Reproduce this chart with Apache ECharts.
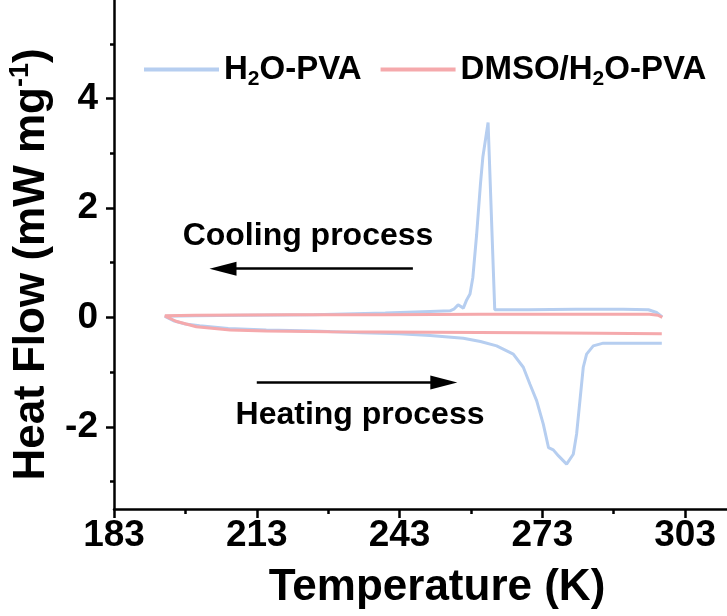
<!DOCTYPE html>
<html lang="en">
<head>
    <meta charset="UTF-8">
    <title>DSC</title>
    <script src="https://cdn.jsdelivr.net/npm/echarts@6/dist/echarts.min.js"></script>
    <style>
        body { padding: 0; margin: 0; border: none; }
        #ec { width: 727px; height: 616px; }
    </style>
</head>
<body>
<div id="ec"></div>
<script>
    // H2O-PVA: cooling run (298 K -> 194 K) then heating run (194 K -> 298 K)
    const h2oTemp = [298.2, 297.0, 295.3, 290, 280, 270, 263.0, 262.6, 261.6, 260.5, 260.0, 259.2, 258.4, 257.8, 257.1, 256.4, 255.3, 254.4, 253.6, 249.4, 240, 225, 210, 200, 193.7,
        195.5, 198, 201, 207, 215, 225, 235, 243, 249.4, 256.4, 260, 263.4, 266.9, 269.0, 270.4, 271.8, 273.2, 274.3, 275.3, 276.4, 278.1, 279.5, 280.2, 280.9, 281.6, 282.3, 283.7, 285.8, 298.1];
    const h2oFlow = [0.01, 0.09, 0.14, 0.15, 0.15, 0.14, 0.14, 0.15, 3.56, 2.93, 2.44, 1.52, 0.73, 0.43, 0.32, 0.17, 0.23, 0.15, 0.12, 0.11, 0.08, 0.05, 0.04, 0.03, 0.02,
        -0.06, -0.12, -0.15, -0.2, -0.23, -0.25, -0.28, -0.3, -0.33, -0.38, -0.44, -0.52, -0.67, -0.91, -1.22, -1.52, -1.95, -2.38, -2.42, -2.53, -2.68, -2.50, -2.13, -1.52, -0.91, -0.67, -0.52, -0.47, -0.47];

    // DMSO/H2O-PVA
    const dmsoTemp = [298.2, 297.3, 295.5, 280, 260, 240, 220, 200, 193.7,
        196, 200.3, 207.4, 215, 228.4, 249.4, 270, 285, 298.1];
    const dmsoFlow = [0.0, 0.04, 0.06, 0.06, 0.06, 0.05, 0.05, 0.04, 0.03,
        -0.07, -0.17, -0.23, -0.25, -0.26, -0.27, -0.28, -0.29, -0.30];

    const xMajor = [183, 213, 243, 273, 303];
    const xMinor = [198, 228, 258, 288];
    const yMajor = [-2, 0, 2, 4];
    const yMinor = [-3, -1, 1, 3, 5];

    // arrows: [startT, endT, heat flow]
    const coolArrow = [245.8, 205.9, 0.89];
    const heatArrow = [213.0, 252.3, -1.19];

    const FONT = '"Liberation Sans", Arial, sans-serif';
    const BLUE = '#b6cef0';
    const RED = '#f5a9ac';

    function zip(a, b) {
        return a.map((v, i) => [v, b[i]]);
    }

    let ec = echarts.init(document.getElementById('ec'));

    const xRange = {min: 183, max: 311.8};
    const yRange = {min: -3.5, max: 5.8};

    let option = {
        animation: false,
        grid: {left: 114, right: 0, top: 0, bottom: 107, containLabel: false, outerBoundsMode: 'none'},
        legend: {
            data: ['H2O-PVA', 'DMSO/H2O-PVA'],
            left: 139,
            top: 48,
            width: 600,
            itemWidth: 75,
            itemHeight: 4,
            itemGap: 19,
            icon: 'rect',
            formatter: function (name) {
                return name === 'H2O-PVA' ? '{a|H}{s|2}{a|O-PVA}' : '{a|DMSO/H}{s|2}{a|O-PVA}';
            },
            textStyle: {
                rich: {
                    a: {fontFamily: FONT, fontWeight: 'bold', fontSize: 33, color: '#000', lineHeight: 40},
                    s: {fontFamily: FONT, fontWeight: 'bold', fontSize: 21, color: '#000', lineHeight: 40, verticalAlign: 'bottom', padding: [12, 0, 0, 0]}
                }
            }
        },
        xAxis: [{
            type: 'value',
            min: xRange.min,
            max: xRange.max,
            name: 'Temperature (K)',
            nameLocation: 'middle',
            nameGap: 57,
            nameTextStyle: {fontFamily: FONT, fontWeight: 'bold', fontSize: 44, color: '#000', padding: [0, 0, 0, 33]},
            axisLine: {show: true, onZero: false, lineStyle: {color: '#000', width: 2.5}},
            axisTick: {show: true, length: 9, customValues: xMajor, lineStyle: {color: '#000', width: 2.5}},
            axisLabel: {customValues: xMajor, margin: 8, fontFamily: FONT, fontWeight: 'bold', fontSize: 37, color: '#000'},
            splitLine: {show: false}
        }, {
            type: 'value',
            min: xRange.min,
            max: xRange.max,
            position: 'bottom',
            axisLine: {show: false, onZero: false},
            axisTick: {show: true, length: 5, customValues: xMinor, lineStyle: {color: '#000', width: 2.5}},
            axisLabel: {show: false},
            splitLine: {show: false}
        }],
        yAxis: [{
            type: 'value',
            min: yRange.min,
            max: yRange.max,
            name: '{a|Heat Flow (mW mg}{s|-1}{a|)}',
            nameLocation: 'middle',
            nameRotate: 90,
            nameGap: 55,
            nameTextStyle: {
                padding: [0, 20, 0, 0],
                rich: {
                    a: {fontFamily: FONT, fontWeight: 'bold', fontSize: 44, color: '#000', lineHeight: 50},
                    s: {fontFamily: FONT, fontWeight: 'bold', fontSize: 27, color: '#000', lineHeight: 50, verticalAlign: 'top', padding: [0, 0, 8, 0]}
                }
            },
            axisLine: {show: true, onZero: false, lineStyle: {color: '#000', width: 2.5}},
            axisTick: {show: true, length: 8, customValues: yMajor, lineStyle: {color: '#000', width: 2.5}},
            axisLabel: {customValues: yMajor, margin: 16, fontFamily: FONT, fontWeight: 'bold', fontSize: 37, color: '#000'},
            splitLine: {show: false}
        }, {
            type: 'value',
            min: yRange.min,
            max: yRange.max,
            position: 'left',
            axisLine: {show: false, onZero: false},
            axisTick: {show: true, length: 4, customValues: yMinor, lineStyle: {color: '#000', width: 2.5}},
            axisLabel: {show: false},
            splitLine: {show: false}
        }],
        graphic: [{
            type: 'text',
            x: 308, y: 236,
            style: {text: 'Cooling process', fontFamily: FONT, fontWeight: 'bold', fontSize: 32, fill: '#000', align: 'center', verticalAlign: 'middle'}
        }, {
            type: 'text',
            x: 360, y: 415,
            style: {text: 'Heating process', fontFamily: FONT, fontWeight: 'bold', fontSize: 32, fill: '#000', align: 'center', verticalAlign: 'middle'}
        }],
        series: [{
            name: 'H2O-PVA',
            type: 'line',
            data: zip(h2oTemp, h2oFlow),
            showSymbol: false,
            symbol: 'none',
            lineStyle: {color: BLUE, width: 3},
            itemStyle: {color: BLUE},
            xAxisIndex: 0, yAxisIndex: 0
        }, {
            name: 'DMSO/H2O-PVA',
            type: 'line',
            data: zip(dmsoTemp, dmsoFlow),
            showSymbol: false,
            symbol: 'none',
            lineStyle: {color: RED, width: 3},
            itemStyle: {color: RED},
            xAxisIndex: 0, yAxisIndex: 0,
            markLine: {
                silent: true,
                symbol: ['none', 'triangle'],
                symbolSize: [14, 27],
                label: {show: false},
                lineStyle: {color: '#000', width: 2.5, type: 'solid'},
                data: [
                    [{coord: [coolArrow[0], coolArrow[2]]}, {coord: [coolArrow[1], coolArrow[2]]}],
                    [{coord: [heatArrow[0], heatArrow[2]]}, {coord: [heatArrow[1], heatArrow[2]]}]
                ]
            }
        }]
    };
    ec.setOption(option);
</script>
</body>
</html>
